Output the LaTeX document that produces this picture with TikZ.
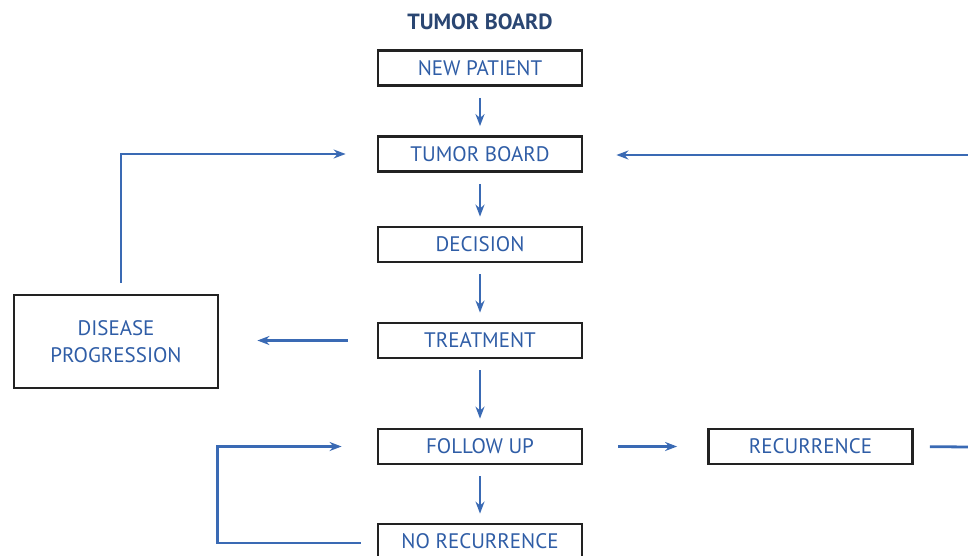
\documentclass[tikz,border=0pt]{standalone}
\usepackage{fontspec}
\setmainfont{PT Sans}
\usetikzlibrary{arrows.meta}
\definecolor{flowblue}{HTML}{3A6AB4}
\definecolor{textblue}{HTML}{2F5DA6}
\definecolor{titlenavy}{HTML}{2A4672}
\definecolor{boxline}{HTML}{222222}
\tikzset{
  stepbox/.style={draw=boxline, line width=2.8pt, minimum width=204pt, minimum height=35pt,
    inner sep=0pt, text=textblue, font=\fontsize{21}{25}\selectfont},
  arr/.style={draw=flowblue, line width=2.8pt, -{Stealth[length=12pt,width=9pt]}},
  plainline/.style={draw=flowblue, line width=2.8pt},
  vgap/.style={shorten <=11pt, shorten >=9pt}
}
\begin{document}
\begin{tikzpicture}[x=1pt,y=-1pt]
  \useasboundingbox (0,0) rectangle (968,556);
  % title
  \node[text=titlenavy, font=\bfseries\fontsize{22}{24}\selectfont] (title) at (480,22) {TUMOR BOARD};
  % main column
  \node[stepbox] (np)  at (480,68)    {NEW PATIENT};
  \node[stepbox] (tb)  at (480,154)   {TUMOR BOARD};
  \node[stepbox] (dec) at (480,244.5) {DECISION};
  \node[stepbox] (tr)  at (480,340.5) {TREATMENT};
  \node[stepbox] (fu)  at (480,446.5) {FOLLOW UP};
  \node[stepbox] (nr)  at (480,541.5) {NO RECURRENCE};
  % side boxes
  \node[stepbox, minimum height=93pt, align=center] (dp) at (116,341.5) {DISEASE\\[2pt]PROGRESSION};
  \node[stepbox] (rec) at (810.5,446.5) {RECURRENCE};
  % right edge points
  \coordinate (edgeR) at (968,447);
  \coordinate (edgeT) at (968,155);
  % downward flow
  \draw[arr, vgap] (np) -- (tb);
  \draw[arr, vgap] (tb) -- (dec);
  \draw[arr, vgap] (dec) -- (tr);
  \draw[arr, vgap] (tr) -- (fu);
  \draw[arr, vgap] (fu) -- (nr);
  % treatment to disease progression
  \draw[arr, shorten <=29pt, shorten >=38pt] (tr.west) -- (dp.east |- tr.west);
  % disease progression back to tumor board
  \draw[arr, shorten >=31pt] ([xshift=5pt,yshift=11pt]dp.north) |- (tb.west);
  % follow up to recurrence
  \draw[arr, shorten <=35pt, shorten >=30pt] (fu.east) -- (rec.west);
  % recurrence off to the right, back into tumor board
  \draw[plainline, shorten <=16pt] (rec.east) -- (edgeR);
  \draw[arr, shorten >=33pt] (edgeT) -- (tb.east |- edgeT);
  % no recurrence loop back to follow up
  \draw[arr, shorten >=35pt] ([xshift=-16pt,yshift=-1.5pt]nr.west) -- ++(-143,0) |- (fu.west);
\end{tikzpicture}
\end{document}
